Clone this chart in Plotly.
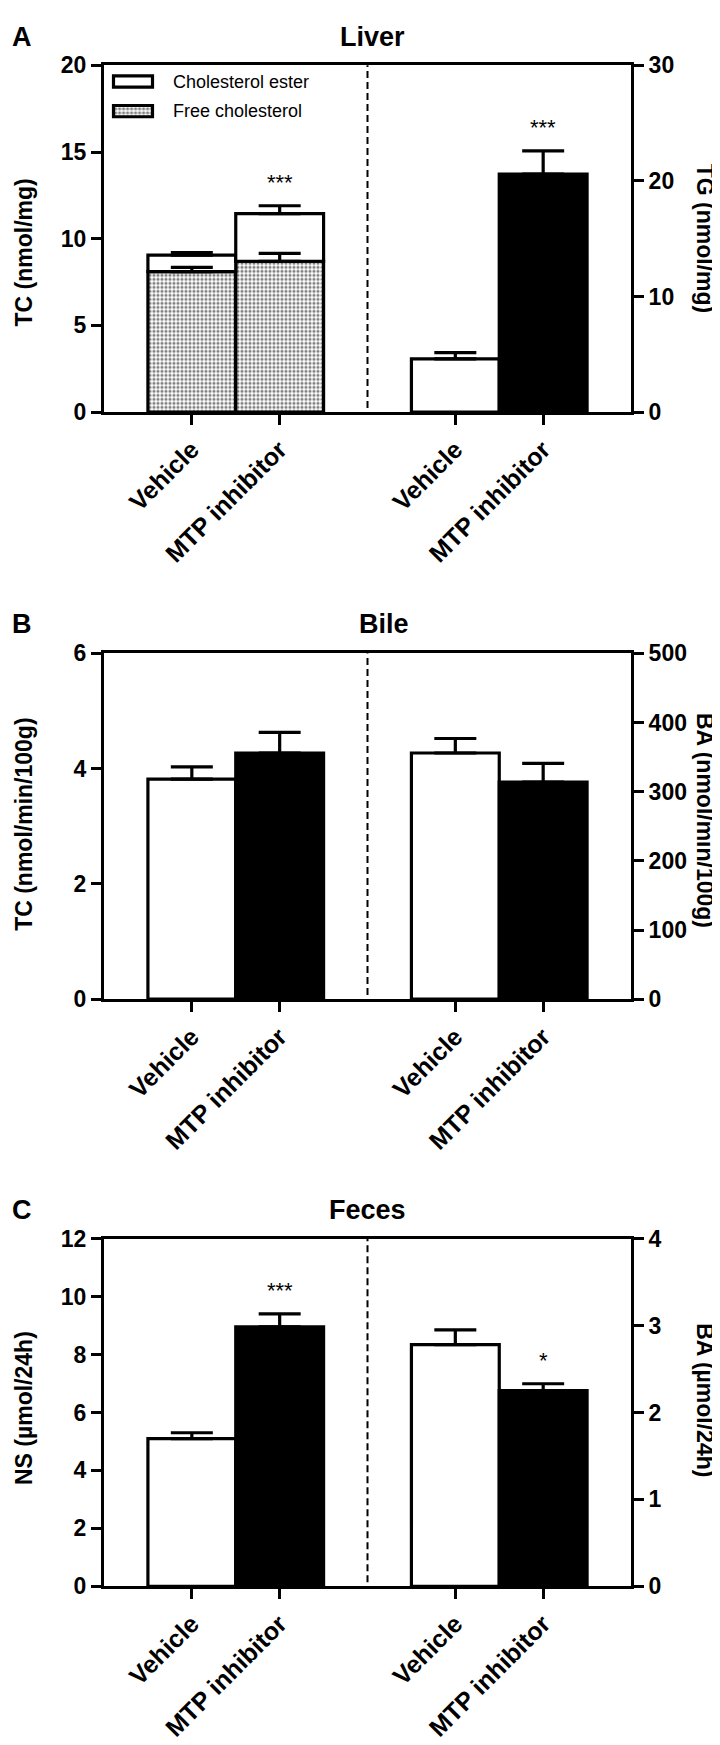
import plotly.graph_objects as go

# ---------------- data ----------------
categories = ["Vehicle", "MTP inhibitor"]
pos_left = [0, 1]
pos_right = [3, 4]

# Panel A - Liver
liver_free_chol = [8.1, 8.7]
liver_free_chol_sem = [0.25, 0.45]
liver_chol_ester = [0.95, 2.75]
liver_tc_sem = [0.15, 0.45]
liver_tg = [4.6, 20.6]
liver_tg_sem = [0.55, 2.0]
liver_tc_sig = ["", "***"]
liver_tg_sig = ["", "***"]

# Panel B - Bile
bile_tc = [3.82, 4.27]
bile_tc_sem = [0.21, 0.36]
bile_ba = [356, 314]
bile_ba_sem = [21, 27]

# Panel C - Feces
feces_ns = [5.1, 8.95]
feces_ns_sem = [0.2, 0.45]
feces_ba = [2.78, 2.25]
feces_ba_sem = [0.17, 0.08]
feces_ns_sig = ["", "***"]
feces_ba_sig = ["", "*"]

# ---------------- style ----------------
W, H = 720, 1745
FONT = "Liberation Sans, Arial, sans-serif"
bar_colors = ["white", "black"]
LW = 3.2


def py(px):
    return 1 - px / H


panel_px = [(45, 397), (642, 993), (1236, 1589)]
x_dom = [96 / W, 623 / W]

fig = go.Figure()


def bars(x, y, xa, ya, colors="white", pattern=None, base=None):
    marker = dict(color=colors, line=dict(color="black", width=LW))
    if pattern:
        marker["pattern"] = pattern
    fig.add_trace(go.Bar(x=x, y=y, base=base, width=1, marker=marker, xaxis=xa, yaxis=ya,
                         hoverinfo="skip", showlegend=False))


def errs(x, y, e, xa, ya):
    fig.add_trace(go.Scatter(x=x, y=y, mode="markers", marker=dict(size=1, opacity=0),
                             error_y=dict(type="data", array=e, arrayminus=[0] * len(e),
                                          symmetric=False, color="black", thickness=3.2, width=21),
                             xaxis=xa, yaxis=ya, hoverinfo="skip", showlegend=False))


dots = dict(shape=".", fgcolor="black", size=4, solidity=0.5, fillmode="overlay")

# Panel A
liver_total = [f + c for f, c in zip(liver_free_chol, liver_chol_ester)]
bars(pos_left, liver_free_chol, "x", "y", colors="white", pattern=dots)
bars(pos_left, liver_chol_ester, "x", "y", colors="white", base=liver_free_chol)
bars(pos_right, liver_tg, "x", "y2", colors=bar_colors)
errs(pos_left, liver_free_chol, liver_free_chol_sem, "x", "y")
errs(pos_left, liver_total, liver_tc_sem, "x", "y")
errs(pos_right, liver_tg, liver_tg_sem, "x", "y2")

# Panel B
bars(pos_left, bile_tc, "x2", "y3", colors=bar_colors)
bars(pos_right, bile_ba, "x2", "y4", colors=bar_colors)
errs(pos_left, bile_tc, bile_tc_sem, "x2", "y3")
errs(pos_right, bile_ba, bile_ba_sem, "x2", "y4")

# Panel C
bars(pos_left, feces_ns, "x3", "y5", colors=bar_colors)
bars(pos_right, feces_ba, "x3", "y6", colors=bar_colors)
errs(pos_left, feces_ns, feces_ns_sem, "x3", "y5")
errs(pos_right, feces_ba, feces_ba_sem, "x3", "y6")

# Legend swatches (own hidden axes)
fig.add_trace(go.Bar(y=[1], x=[1], base=[0], orientation="h", width=0.38,
                     marker=dict(color="white", line=dict(color="black", width=LW)),
                     xaxis="x4", yaxis="y7", hoverinfo="skip", showlegend=False))
fig.add_trace(go.Bar(y=[0], x=[1], base=[0], orientation="h", width=0.38,
                     marker=dict(color="white", pattern=dots, line=dict(color="black", width=LW)),
                     xaxis="x4", yaxis="y7", hoverinfo="skip", showlegend=False))

tickfont = dict(family=FONT, size=23, color="black", weight="bold")
xtickfont = dict(family=FONT, size=25, color="black", weight="bold")
yax = dict(showline=True, linecolor="black", linewidth=3, ticks="outside", ticklen=10,
           tickwidth=3, tickcolor="black", showgrid=False, zeroline=False, tickfont=tickfont,
           fixedrange=True)
xax = dict(range=[-1, 5], domain=x_dom, showline=True, linecolor="black", linewidth=3,
           mirror=True, ticks="outside", ticklen=10, tickwidth=3, tickcolor="black",
           showgrid=False, zeroline=False, tickmode="array",
           tickvals=pos_left + pos_right, ticktext=categories + categories,
           tickangle=-45, tickfont=xtickfont, fixedrange=True)

y_ranges = [([0, 20], 5, [0, 30], 10), ([0, 6], 2, [0, 500], 100), ([0, 12], 2, [0, 4], 1)]
layout = dict()
for i, ((top, bot), (lr, ld, rr, rd)) in enumerate(zip(panel_px, y_ranges)):
    xn = "xaxis" if i == 0 else f"xaxis{i + 1}"
    xid = "x" if i == 0 else f"x{i + 1}"
    yl = 2 * i + 1
    yr = 2 * i + 2
    yln = "yaxis" if yl == 1 else f"yaxis{yl}"
    ylid = "y" if yl == 1 else f"y{yl}"
    layout[xn] = dict(xax, anchor=ylid)
    layout[yln] = dict(yax, domain=[py(bot), py(top)], range=lr, dtick=ld, anchor=xid, side="left")
    layout[f"yaxis{yr}"] = dict(yax, range=rr, dtick=rd, anchor=xid, overlaying=ylid, side="right")

layout["xaxis4"] = dict(domain=[101.6 / W, 148.4 / W], range=[-0.1, 1.1], visible=False, fixedrange=True)
layout["yaxis7"] = dict(domain=[py(106.5), py(46.5)], range=[-0.5, 1.5], visible=False,
                        anchor="x4", fixedrange=True)

# dashed separators
shapes = []
for xr, yr in [("x", "y"), ("x2", "y3"), ("x3", "y5")]:
    shapes.append(dict(type="line", xref=xr, yref=f"{yr} domain", x0=2, x1=2, y0=0.012, y1=1,
                       line=dict(color="black", width=2, dash="7px,4px")))

ann = []


def text(x, y, s, size, bold=True, angle=0, xanchor="center", yanchor="middle"):
    ann.append(dict(x=x / W, y=py(y), xref="paper", yref="paper", text=s, showarrow=False,
                    textangle=angle, xanchor=xanchor, yanchor=yanchor,
                    font=dict(family=FONT, size=size, color="black",
                              weight="bold" if bold else "normal")))


# panel letters and titles
text(14, 16, "A", 27)
text(14, 612, "B", 27)
text(14, 1207, "C", 27)
text(364, 16, "Liver", 27)
text(376, 612, "Bile", 27)
text(359, 1207, "Feces", 27)

# axis titles
text(16, 235, "TC (nmol/mg)", 23, angle=-90)
text(697, 220, "TG (nmol/mg)", 23, angle=90)
text(16, 816, "TC (nmol/min/100g)", 23, angle=-90)
text(697, 811, "BA (nmol/min/100g)", 23, angle=90)
text(16, 1408, "NS (\u00b5mol/24h)", 23, angle=-90)
text(697, 1400, "BA (\u00b5mol/24h)", 23, angle=90)

# legend labels
text(163, 61.5, "Cholesterol ester", 18, bold=False, xanchor="left")
text(163, 91.5, "Free cholesterol", 18, bold=False, xanchor="left")


# significance stars
def stars(xs, vals, sems, sig, yref):
    for x, v, e, s in zip(xs, vals, sems, sig):
        if s:
            ann.append(dict(x=x, y=v + e, xref=yref[0], yref=yref[1], text=s, showarrow=False,
                            yanchor="middle", yshift=23,
                            font=dict(family=FONT, size=22, color="black")))


stars(pos_left, liver_total, liver_tc_sem, liver_tc_sig, ("x", "y"))
stars(pos_right, liver_tg, liver_tg_sem, liver_tg_sig, ("x", "y2"))
stars(pos_left, feces_ns, feces_ns_sem, feces_ns_sig, ("x3", "y5"))
stars(pos_right, feces_ba, feces_ba_sem, feces_ba_sig, ("x3", "y6"))

fig.update_layout(width=W, height=H, autosize=False, margin=dict(l=0, r=0, t=0, b=0),
                  paper_bgcolor="white", plot_bgcolor="rgba(0,0,0,0)", barmode="overlay",
                  showlegend=False, shapes=shapes, annotations=ann, **layout)

fig.write_html("out.html")
